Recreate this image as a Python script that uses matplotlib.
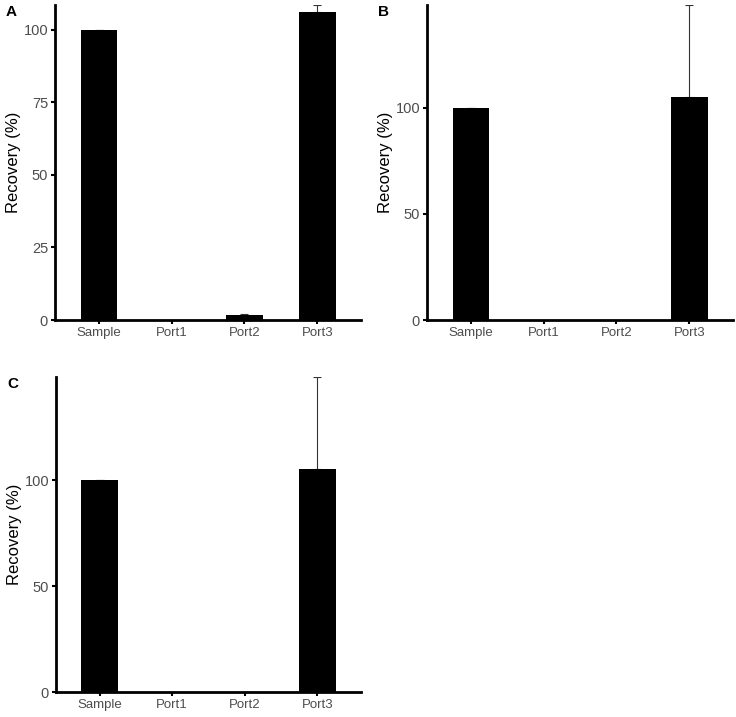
import matplotlib
matplotlib.use("Agg")
import matplotlib.pyplot as plt

plt.rcParams['font.family'] = ['Liberation Sans', 'DejaVu Sans']

categories = ["Sample", "Port1", "Port2", "Port3"]

values_a = [100, 0, 1.8, 106.2]
errors_a = [0, 0, 0.3, 2.4]

values_b = [100, 0, 0, 105.2]
errors_b = [0, 0, 0, 43.2]

values_c = [100, 0, 0, 105.3]
errors_c = [0, 0, 0, 43.3]

yticks_a = [0, 25, 50, 75, 100]
yticks_bc = [0, 50, 100]

fig = plt.figure(figsize=(7.36, 7.17), dpi=100)

W, H = 736, 717
def rect(l, r, b, t):
    return [l / W, 1 - b / H, (r - l) / W, (b - t) / H]

axA = fig.add_axes(rect(55, 361, 320, 5))
axB = fig.add_axes(rect(427, 733, 320, 5))
axC = fig.add_axes(rect(56, 361, 692, 377))

def draw(ax, vals, errs, yticks, label):
    x = list(range(len(categories)))
    ax.bar(x, vals, width=0.5, color="black", zorder=2)
    ax.errorbar(x, vals, yerr=[[0] * len(errs), errs], fmt="none",
                ecolor="#333333", elinewidth=0.8, capsize=3, capthick=0.8, zorder=1)
    ax.set_xlim(-0.6, 3.6)
    top = max(v + e for v, e in zip(vals, errs))
    ax.set_ylim(0, top)
    ax.set_xticks(x)
    ax.set_xticklabels(categories)
    ax.set_yticks(yticks)
    for s in ["top", "right"]:
        ax.spines[s].set_visible(False)
    for s in ["left", "bottom"]:
        ax.spines[s].set_linewidth(2)
        ax.spines[s].set_color("black")
    ax.tick_params(axis="both", length=3, width=1.5, color="black",
                   labelcolor="#4d4d4d", pad=2)
    ax.tick_params(axis="x", labelsize=9.5)
    ax.tick_params(axis="y", labelsize=10.5)
    ax.set_ylabel("Recovery (%)", fontsize=12, color="black")
    ax.yaxis.set_label_coords(-0.112, 0.5)
    ax.text(-0.16, 1.0, label, transform=ax.transAxes, fontsize=11,
            fontweight="bold", ha="left", va="top")

draw(axA, values_a, errors_a, yticks_a, "A")
draw(axB, values_b, errors_b, yticks_bc, "B")
draw(axC, values_c, errors_c, yticks_bc, "C")

fig.savefig("out.png", dpi=100)
